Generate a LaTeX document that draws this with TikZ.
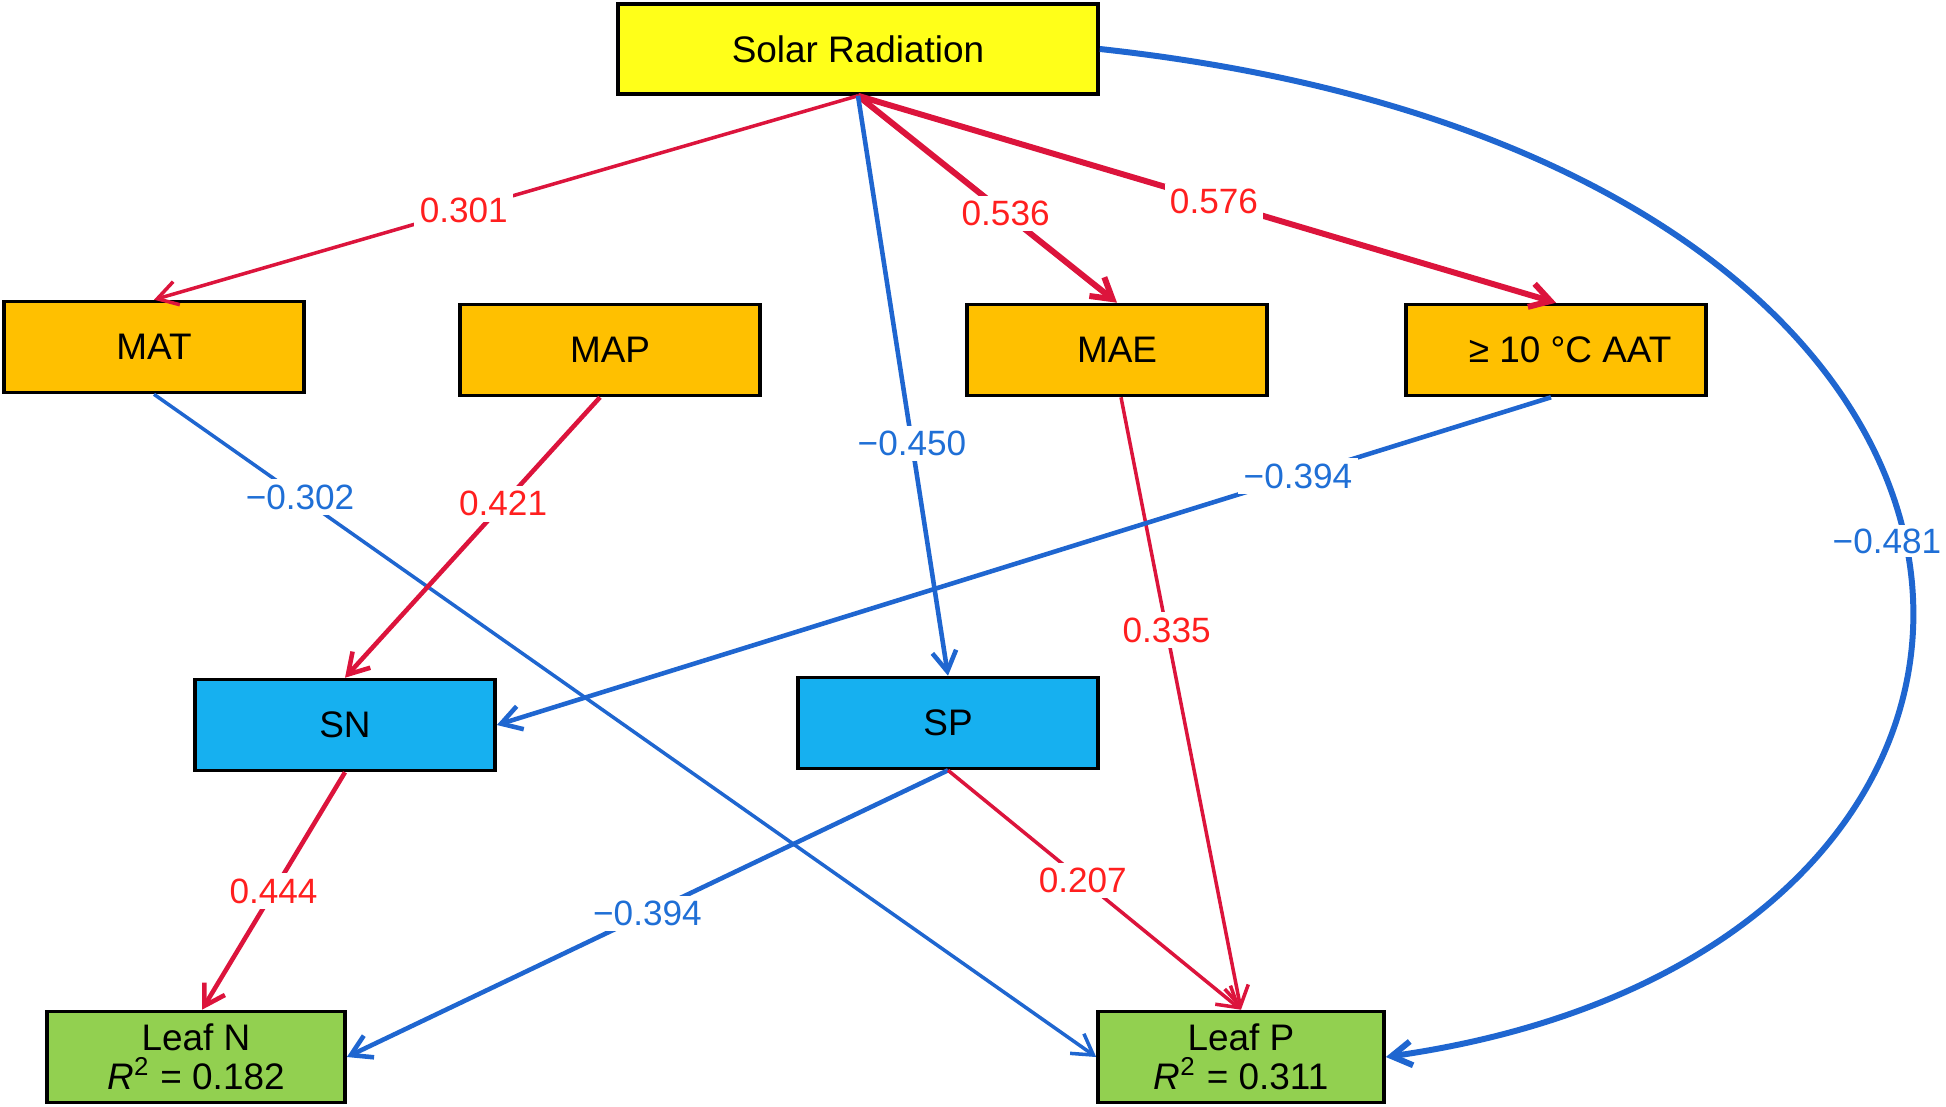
\documentclass[tikz,border=0pt]{standalone}
\usepackage{fontspec}
\setmainfont{Liberation Sans}
\usepackage{xcolor}
\usepackage{tikz}
\usetikzlibrary{arrows.meta}
\definecolor{sunFill}{HTML}{FFFF19}
\definecolor{climFill}{HTML}{FFC000}
\definecolor{soilFill}{HTML}{16B0F0}
\definecolor{leafFill}{HTML}{92D050}
\definecolor{posLine}{HTML}{DC143C}
\definecolor{negLine}{HTML}{1F66D0}
\definecolor{posText}{HTML}{FF1F1F}
\definecolor{negText}{HTML}{1F6FD6}

\begin{document}
\begin{tikzpicture}[
  x=0.01cm, y=-0.01cm,
  font=\fontsize{10.5}{12}\selectfont,
  box/.style={draw=black, line width=1pt, minimum width=3cm, minimum height=0.91cm,
              inner sep=2pt, align=center},
  sunbox/.style={box, fill=sunFill, minimum width=4.8cm, minimum height=0.9cm},
  climbox/.style={box, fill=climFill},
  soilbox/.style={box, fill=soilFill},
  leafbox/.style={box, fill=leafFill, font=\fontsize{10.5}{11}\selectfont},
  posflow/.style={-{Straight Barb[length=2mm,width=2.4mm]}, line width=1pt, draw=posLine},
  negflow/.style={-{Straight Barb[length=2mm,width=2.4mm]}, line width=1pt, draw=negLine},
  midline/.style={line width=1.3pt},
  heavyline/.style={line width=1.7pt},
  coefpos/.style={fill=white, inner sep=1.5pt, text=posText, font=\fontsize{10}{12}\selectfont},
  coefneg/.style={fill=white, inner sep=1.5pt, text=negText, font=\fontsize{10}{12}\selectfont},
]
\useasboundingbox (0,0) rectangle (1946,1106);

% ---- Radiación ----
\node[sunbox] (solar) at (858,49) {Solar Radiation};

% ---- Clima ----
\node[climbox] (mat) at (154,347)  {MAT};
\node[climbox] (map) at (610,350)  {MAP};
\node[climbox] (mae) at (1117,350) {MAE};
\node[climbox] (aat) at (1556,350) {\hspace{8pt}≥ 10 °C AAT};

% ---- Suelo ----
\node[soilbox] (sn) at (345,725) {SN};
\node[soilbox] (sp) at (948,723) {SP};

% ---- Hoja ----
\node[leafbox, minimum width=2.98cm] (leafn) at (196,1057) {Leaf N\\\textit{R}\textsuperscript{2} = 0.182};
\node[leafbox, minimum width=2.86cm] (leafp) at (1241,1057) {Leaf P\\\textit{R}\textsuperscript{2} = 0.311};

% ---- Desde la radiación ----
\draw[posflow] (solar.south) -- node[coefpos, pos=0.56] {0.301} (mat.north);
\draw[posflow, heavyline] (solar.south) -- node[coefpos, pos=0.57] {0.536} (mae.north);
\draw[posflow, heavyline] (solar.south) -- node[coefpos, pos=0.51] {0.576} (aat.north);
\draw[negflow, midline] (solar.south) -- node[coefneg, pos=0.6] {−0.450} (sp.north);
\draw[negflow, heavyline] (solar.east) .. controls (2120,160) and (2137,950) ..
  node[coefneg, pos=0.49, xshift=-5pt, inner sep=1pt] {−0.481} (leafp.east);

% ---- Clima hacia suelo y hoja ----
\draw[negflow] (mat.south) -- node[coefneg, pos=0.155] {−0.302} (leafp.west);
\draw[posflow, midline] ([xshift=-0.1cm]map.south) -- node[coefpos, pos=0.38] {0.421} (sn.north);
\draw[posflow] ([xshift=0.04cm]mae.south) -- node[coefpos, pos=0.38] {0.335} (leafp.north);
\draw[negflow, midline] ([xshift=-0.05cm]aat.south) -- node[coefneg, pos=0.24] {−0.394} (sn.east);

% ---- Suelo hacia hoja ----
\draw[posflow, midline] (sn.south) -- node[coefpos, pos=0.5] {0.444} ([xshift=0.06cm]leafn.north);
\draw[negflow, midline] (sp.south) -- node[coefneg, pos=0.5] {−0.394} (leafn.east);
\draw[posflow] (sp.south) -- node[coefpos, pos=0.46] {0.207} (leafp.north);

\end{tikzpicture}
\end{document}
